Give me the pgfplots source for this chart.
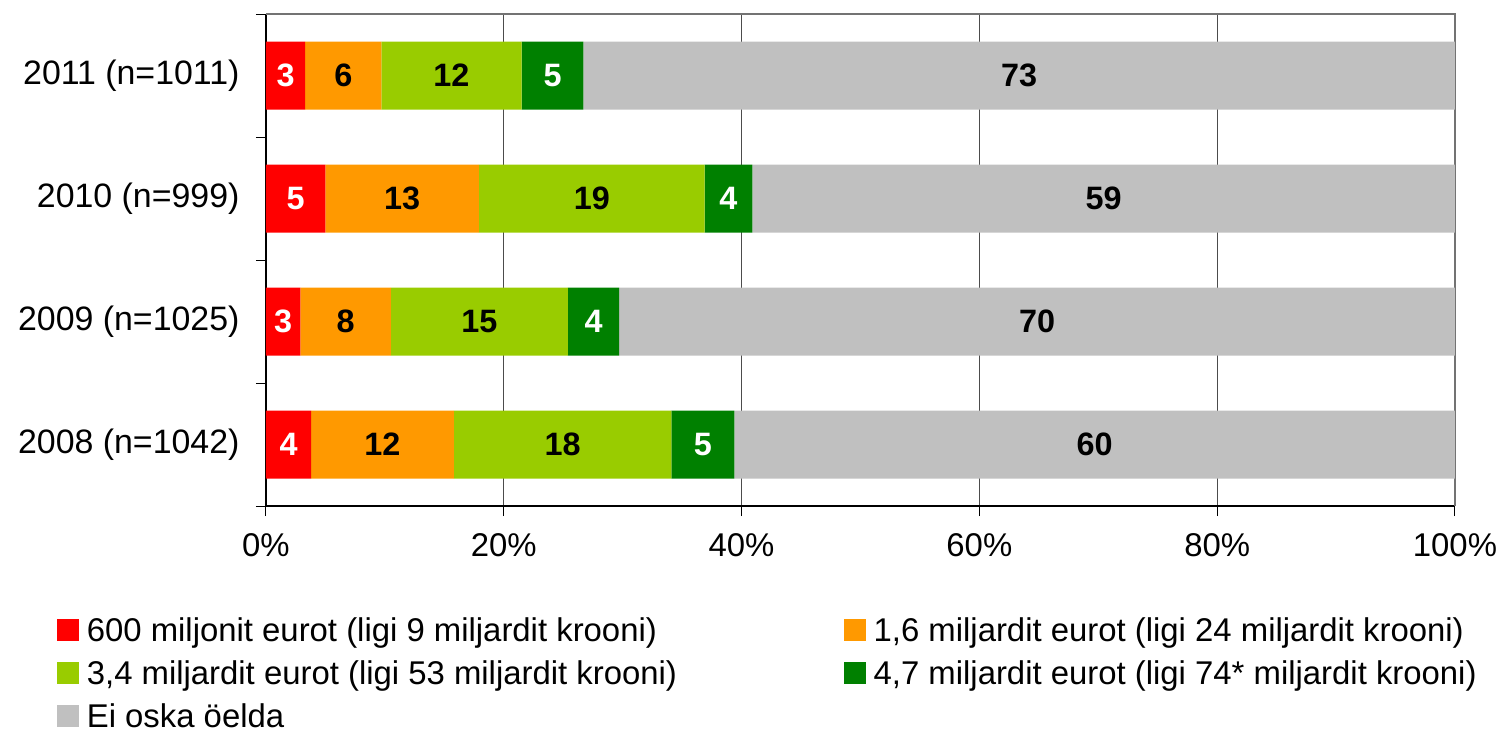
\documentclass[border=0pt]{standalone}
\usepackage{pgfplots}
\pgfplotsset{compat=1.18}
\usepackage{pgfplotstable}
\usepackage{fontspec}
\setmainfont{Liberation Sans}
\definecolor{cred}{HTML}{FF0000}
\definecolor{corange}{HTML}{FF9900}
\definecolor{clime}{HTML}{99CC00}
\definecolor{cdkgreen}{HTML}{008000}
\definecolor{cgrey}{HTML}{C0C0C0}

\pgfplotstableread{
y a b c d e
0 3.8 12.0 18.3 5.3 60.6
1 2.9 7.6 14.9 4.3 70.3
2 5.0 12.9 19.0 4.0 59.1
3 3.3 6.4 11.8 5.2 73.3
}\datatable

\pgfplotstableread{
y ma la mb lb mc lc md ld me le
0 1.9 4 9.8 12 24.95 18 36.75 5 69.7 60
1 1.45 3 6.7 8 17.95 15 27.55 4 64.85 70
2 2.5 5 11.45 13 27.4 19 38.9 4 70.45 59
3 1.65 3 6.5 6 15.6 12 24.1 5 63.35 73
}\labtable

\begin{document}
\begin{tikzpicture}
\begin{axis}[
  scale only axis, width=1189bp, height=492bp,
  xmin=0, xmax=100, ymin=-0.5, ymax=3.5,
  xbar stacked, bar width=0.553,
  clip=false,
  axis x line*=bottom, axis y line*=left,
  axis line style={black, line width=1.2bp},
  xtick={0,20,40,60,80,100},
  xticklabels={0\%,20\%,40\%,60\%,80\%,100\%},
  xmajorgrids, grid style={black!70, line width=0.9bp},
  ytick={0,1,2,3},
  yticklabels={2008 (n=1042),2009 (n=1025),2010 (n=999),2011 (n=1011)},
  minor ytick={-0.5,0.5,1.5,2.5,3.5},
  tick align=outside,
  major tick length=10bp, minor tick length=10bp,
  major y tick style={draw=none},
  minor y tick style={draw=black, line width=1bp},
  major x tick style={draw=black, line width=1bp},
  ticklabel style={font=\fontsize{33}{40}\selectfont},
  xticklabel style={yshift=-14bp},
  yticklabel style={xshift=-13bp, font=\fontsize{34}{40}\selectfont},
  every axis plot post/.append style={draw=none,
    legend image code/.code={\path[fill=none, draw=none] (0bp,-21.5bp) rectangle (21.7bp,21.5bp);
      \fill[##1] (0bp,-10.85bp) rectangle (21.7bp,10.85bp);}},
  legend style={at={(-0.1758,-0.2079)}, anchor=north west, draw=none, fill=none,
    inner sep=0pt, font=\fontsize{33}{40}\selectfont,
    row sep=0pt,
    /tikz/column 1/.style={column sep=6bp},
    /tikz/column 3/.style={column sep=6bp},
    /tikz/column 2/.style={column sep=165bp}},
  legend columns=2, legend cell align=left,
]
\addplot[fill=cred] table[x=a,y=y]{\datatable};
\addplot[fill=corange] table[x=b,y=y]{\datatable};
\addplot[fill=clime] table[x=c,y=y]{\datatable};
\addplot[fill=cdkgreen] table[x=d,y=y]{\datatable};
\addplot[fill=cgrey] table[x=e,y=y]{\datatable};
\legend{600 miljonit eurot (ligi 9 miljardit krooni),
1{,}6 miljardit eurot (ligi 24 miljardit krooni),
3{,}4 miljardit eurot (ligi 53 miljardit krooni),
4{,}7 miljardit eurot (ligi 74* miljardit krooni),
Ei oska öelda}
\draw[black!55, line width=2bp] (rel axis cs:0,1) -- (rel axis cs:1,1) -- (rel axis cs:1,0);
\coordinate (bl) at (rel axis cs:-0.2237,-0.4654);
\coordinate (tr) at (rel axis cs:1.0404,1.0285);
\end{axis}
\begin{axis}[
  scale only axis, width=1189bp, height=492bp,
  xmin=0, xmax=100, ymin=-0.5, ymax=3.5,
  hide axis, clip=false,
  nodes near coords, point meta=explicit symbolic,
  every node near coord/.append style={anchor=center, inner sep=0pt,
    font=\bfseries\fontsize{32.5}{38}\selectfont},
]
\addplot[draw=none, mark=none, every node near coord/.append style={text=white}] table[x=ma,y=y,meta=la]{\labtable};
\addplot[draw=none, mark=none, every node near coord/.append style={text=black}] table[x=mb,y=y,meta=lb]{\labtable};
\addplot[draw=none, mark=none, every node near coord/.append style={text=black}] table[x=mc,y=y,meta=lc]{\labtable};
\addplot[draw=none, mark=none, every node near coord/.append style={text=white}] table[x=md,y=y,meta=ld]{\labtable};
\addplot[draw=none, mark=none, every node near coord/.append style={text=black}] table[x=me,y=y,meta=le]{\labtable};
\end{axis}
\pgfresetboundingbox
\path[use as bounding box] (bl) rectangle (tr);
\end{tikzpicture}
\end{document}
